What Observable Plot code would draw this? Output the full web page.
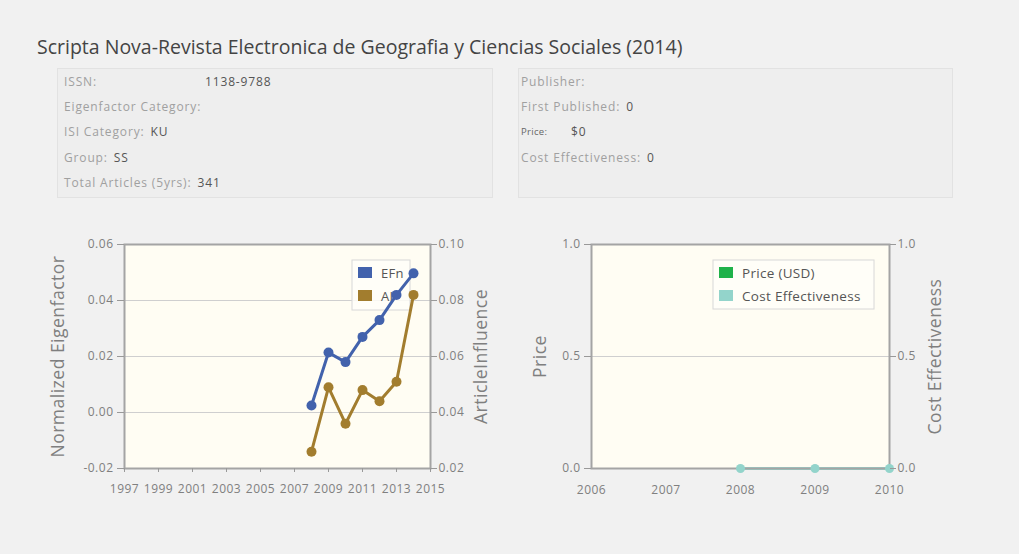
<!DOCTYPE html>
<html><head><meta charset="utf-8">
<script src="https://cdn.jsdelivr.net/npm/d3@7"></script>
<script src="https://cdn.jsdelivr.net/npm/@observablehq/plot@0.6"></script>
<style>
html,body{margin:0;padding:0}
body{background:#f1f1f1;font-family:"Open Sans",sans-serif;width:1019px;height:554px;overflow:hidden;position:relative}
#title{position:absolute;left:37px;top:34px;font-size:19.5px;line-height:26px;color:#444;white-space:nowrap}
.box{position:absolute;top:68px;height:130px;background:#eeeeee;border:1px solid #e2e2e2;box-sizing:border-box}
.row{position:absolute;font-size:12px;letter-spacing:0.85px;line-height:16px;color:#a0a0a0;white-space:nowrap}
.v{color:#555}
.chart{position:absolute;top:225px}
</style></head>
<body>
<div id="title"></div>
<div class="box" id="boxL" style="left:57px;width:436px"></div>
<div class="box" id="boxR" style="left:518px;width:435px"></div>
<div class="chart" id="c1" style="left:0px"></div>
<div class="chart" id="c2" style="left:500px"></div>
<script>
// ---- text content ----
const titleText = "Scripta Nova-Revista Electronica de Geografia y Ciencias Sociales (2014)";
const infoLeftLabels = ["ISSN:", "Eigenfactor Category:", "ISI Category:", "Group:", "Total Articles (5yrs):"];
const infoLeftValues = ["1138-9788", "", "KU", "SS", "341"];
const infoRightLabels = ["Publisher:", "First Published:", "Price:", "Cost Effectiveness:"];
const infoRightValues = ["", "0", "$0", "0"];

// ---- left chart data ----
const efYears = [2008, 2009, 2010, 2011, 2012, 2013, 2014];
const efnValues = [0.0025, 0.0214, 0.018, 0.027, 0.033, 0.042, 0.0497];
const aiValues = [0.026, 0.049, 0.036, 0.048, 0.044, 0.051, 0.082];
const leftYTicks = [-0.02, 0, 0.02, 0.04, 0.06];
const rightYTicks = [0.02, 0.04, 0.06, 0.08, 0.10];
const leftXTicks = [1997, 1999, 2001, 2003, 2005, 2007, 2009, 2011, 2013, 2015];
const seriesNamesLeft = ["EFn", "AI"];
const colorsLeft = ["#4262ac", "#a27d2e"];

// ---- right chart data ----
const ceYears = [2008, 2009, 2010];
const ceValues = [0, 0, 0];
const priceYears = [];
const priceValues = [];
const priceTicks = [0, 0.5, 1.0];
const rightXTicks = [2006, 2007, 2008, 2009, 2010];
const seriesNamesRight = ["Price (USD)", "Cost Effectiveness"];
const colorsRight = ["#1fb24a", "#93d4cb"];

// ---- info boxes ----
document.getElementById("title").textContent = titleText;
const rowTops = [74, 99, 124, 150, 175];
infoLeftLabels.forEach((l, i) => {
  const d = document.createElement("div");
  d.className = "row"; d.style.left = "64px"; d.style.top = rowTops[i] + "px";
  d.textContent = l;
  document.body.appendChild(d);
  if (infoLeftValues[i]) {
    const v = document.createElement("div");
    v.className = "row v"; v.style.top = rowTops[i] + "px";
    v.style.left = (i === 0 ? 205 : 64 + d.getBoundingClientRect().width + 6) + "px";
    v.textContent = infoLeftValues[i];
    document.body.appendChild(v);
  }
});
infoRightLabels.forEach((l, i) => {
  const d = document.createElement("div");
  d.className = "row"; d.style.left = "521px"; d.style.top = rowTops[i] + "px";
  d.textContent = l;
  if (i === 2) { d.style.fontSize = "9.5px"; d.style.letterSpacing = "0.3px"; d.style.color = "#666"; }
  document.body.appendChild(d);
  if (infoRightValues[i]) {
    const v = document.createElement("div");
    v.className = "row v"; v.style.top = rowTops[i] + "px";
    v.style.left = (i === 2 ? 571 : 521 + d.getBoundingClientRect().width + 6) + "px";
    v.textContent = infoRightValues[i];
    document.body.appendChild(v);
  }
});

// ---- helpers ----
const leftDomain = [-0.02, 0.06], rightDomain = [0.02, 0.10];
const toLeft = v => leftDomain[0] + (v - rightDomain[0]) * (leftDomain[1] - leftDomain[0]) / (rightDomain[1] - rightDomain[0]);
const toRight = v => rightDomain[0] + (v - leftDomain[0]) * (rightDomain[1] - rightDomain[0]) / (leftDomain[1] - leftDomain[0]);
const fmt = n => d => (Math.abs(d) < 1e-12 ? 0 : d).toFixed(n);

function legendMark(names, colors, boxW, boxH, offRight, offTop, fs) {
  return (index, scales, values, dims) => {
    const x0 = dims.width - dims.marginRight - offRight - boxW;
    const y0 = dims.marginTop + offTop;
    const g = d3.create("svg:g").attr("transform", `translate(${x0},${y0})`);
    g.append("rect").attr("width", boxW).attr("height", boxH)
      .attr("fill", "#fffef8").attr("fill-opacity", 0.85).attr("stroke", "#d8d8d8");
    names.forEach((n, i) => {
      const cy = 13 + i * 23;
      g.append("rect").attr("x", 6).attr("y", cy - 6).attr("width", 14).attr("height", 11).attr("fill", colors[i]);
      g.append("text").attr("x", 29).attr("y", cy).attr("dy", "0.35em")
        .attr("text-anchor", "start").attr("font-size", fs).attr("letter-spacing", "0.3px")
        .attr("fill", "#555").text(n);
    });
    return g.node();
  };
}

const efData = efYears.map((y, i) => ({year: y, v: efnValues[i]}));
const aiData = efYears.map((y, i) => ({year: y, v: toLeft(aiValues[i])}));

const axisStyle = {fontFamily: "Open Sans", fontSize: "12px", letterSpacing: "0.5px", color: "#808080", background: "transparent", overflow: "visible"};
const titleOpts = {text: d => d, rotate: -90, textAnchor: "middle", fontSize: 17.5, fill: "#7f7f7f"};

const chart1 = Plot.plot({
  width: 500, height: 280,
  marginLeft: 124, marginRight: 70, marginTop: 19, marginBottom: 37,
  style: axisStyle,
  x: {domain: [1997, 2015]},
  y: {domain: leftDomain},
  marks: [
    Plot.frame({fill: "#fffdf3", stroke: "none"}),
    Plot.gridY(leftYTicks, {stroke: "#cfcfcf", strokeOpacity: 1}),
    legendMark(seriesNamesLeft, colorsLeft, 58, 50, 20, 16, 13),
    Plot.line(efData, {x: "year", y: "v", stroke: colorsLeft[0], strokeWidth: 3}),
    Plot.dot(efData, {x: "year", y: "v", r: 5, fill: colorsLeft[0]}),
    Plot.line(aiData, {x: "year", y: "v", stroke: colorsLeft[1], strokeWidth: 3}),
    Plot.dot(aiData, {x: "year", y: "v", r: 5, fill: colorsLeft[1]}),
    Plot.frame({stroke: "#a4a4a4", strokeWidth: 2}),
    Plot.axisY(leftYTicks, {anchor: "left", tickFormat: fmt(2), tickSize: 7, tickPadding: 4, label: null, stroke: "#999"}),
    Plot.axisY(leftYTicks, {anchor: "right", tickFormat: d => toRight(d).toFixed(2), tickSize: 6, tickPadding: 2, label: null, stroke: "#999"}),
    Plot.axisX(leftXTicks, {tickFormat: d => String(d), tickSize: 4, tickPadding: 12, label: null, stroke: "#999", letterSpacing: "-0.3px"}),
    Plot.text(["Normalized Eigenfactor"], {frameAnchor: "left", dx: -66, ...titleOpts}),
    Plot.text(["ArticleInfluence"], {frameAnchor: "right", dx: 51, ...titleOpts})
  ]
});
document.getElementById("c1").appendChild(chart1);

const ceData = ceYears.map((y, i) => ({year: y, v: ceValues[i]}));
const priceData = priceYears.map((y, i) => ({year: y, v: priceValues[i]}));

const chart2 = Plot.plot({
  width: 470, height: 280,
  marginLeft: 91, marginRight: 81, marginTop: 19, marginBottom: 37,
  style: axisStyle,
  x: {domain: [2006, 2010]},
  y: {domain: [0, 1]},
  marks: [
    Plot.frame({fill: "#fffdf3", stroke: "none"}),
    Plot.gridY(priceTicks, {stroke: "#cfcfcf", strokeOpacity: 1}),
    legendMark(seriesNamesRight, colorsRight, 161, 49, 15, 16, 13.5),
    Plot.line(priceData, {x: "year", y: "v", stroke: colorsRight[0], strokeWidth: 3}),
    Plot.line(ceData, {x: "year", y: "v", stroke: colorsRight[1], strokeWidth: 3}),
    Plot.frame({stroke: "#a4a4a4", strokeWidth: 2}),
    Plot.dot(ceData, {x: "year", y: "v", r: 4.5, fill: colorsRight[1]}),
    Plot.axisY(priceTicks, {anchor: "left", tickFormat: fmt(1), tickSize: 7, tickPadding: 4, label: null, stroke: "#999"}),
    Plot.axisY(priceTicks, {anchor: "right", tickFormat: fmt(1), tickSize: 6, tickPadding: 2, label: null, stroke: "#999"}),
    Plot.axisX(rightXTicks, {tickFormat: d => String(d), tickSize: 0, tickPadding: 17, label: null}),
    Plot.text(["Price"], {frameAnchor: "left", dx: -51, ...titleOpts}),
    Plot.text(["Cost Effectiveness"], {frameAnchor: "right", dx: 46, ...titleOpts})
  ]
});
document.getElementById("c2").appendChild(chart2);
</script>
</body></html>
